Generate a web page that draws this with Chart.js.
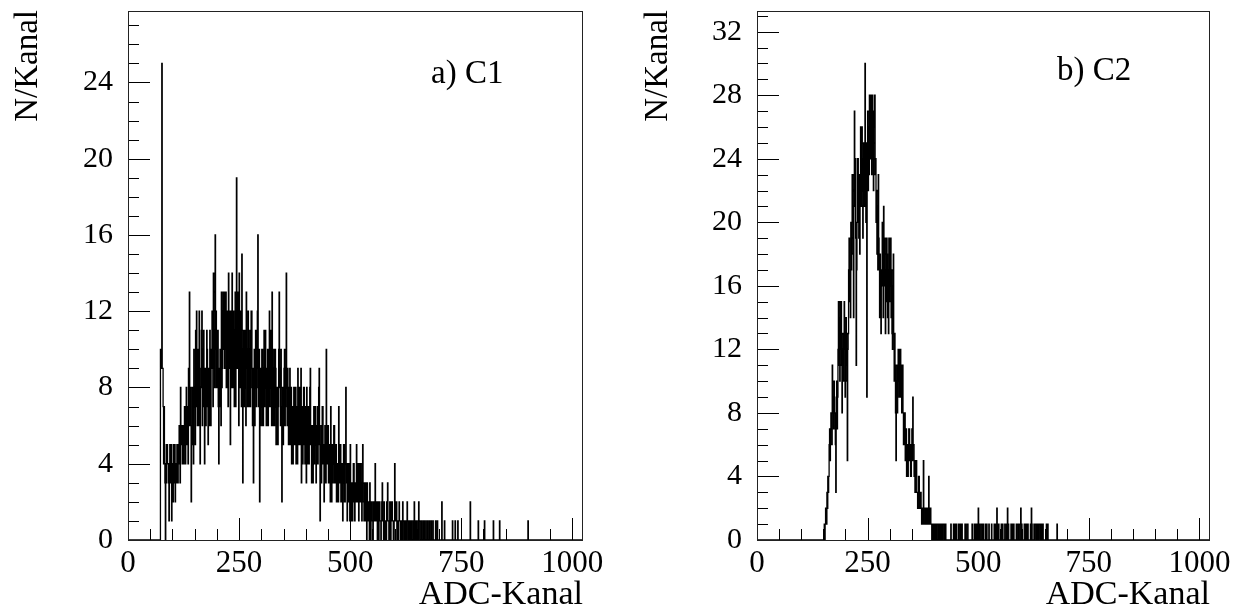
<!DOCTYPE html>
<html><head><meta charset="utf-8">
<script src="https://cdn.jsdelivr.net/npm/chart.js@4.4.0/dist/chart.umd.min.js"></script>
<style>
html,body{margin:0;padding:0;background:#fff;}
#wrap{position:relative;width:1236px;height:611px;overflow:hidden;}
canvas{position:absolute;top:0;}
</style></head><body>
<div id="wrap">
<canvas id="c1" width="618" height="611" style="left:0;width:618px;height:611px"></canvas>
<canvas id="c2" width="618" height="611" style="left:618px;width:618px;height:611px"></canvas>
</div>
<script>
// ---------------- data ----------------
const binWidth = 1;                 // ADC channels per bin
const xRange = [0, 1024];
const xTickLabels = [0, 250, 500, 750, 1000];
const xMinorStep = 50;
const xTitle = "ADC-Kanal";
const yTitle = "N/Kanal";

// C1: counts per channel, one row = 20 channels, starting at channel 70
const c1Label = "a) C1";
const c1FirstChannel = 70;
const c1Counts = [
0,0,0,10,9,10,25,9,9,7,4,7,5,3,0,4,3,5,5,4,
4,3,1,4,5,3,3,5,1,4,4,2,5,4,3,5,2,4,4,3,
5,3,3,5,4,6,6,3,8,5,5,6,4,6,6,4,5,7,7,4,
6,8,5,7,7,4,9,6,13,7,6,8,2,6,5,8,7,4,10,7,
8,5,11,7,12,8,6,10,9,6,12,9,4,8,8,11,12,6,7,10,
11,7,4,9,9,6,7,11,10,7,5,9,8,6,11,8,6,10,9,12,
9,7,14,9,11,8,16,10,12,8,8,11,11,7,4,9,7,10,10,6,
13,8,9,12,13,10,13,9,10,13,13,8,8,12,10,7,14,9,9,12,
5,10,12,8,14,9,8,12,11,7,10,13,7,10,19,9,10,13,9,6,
14,9,8,12,12,7,15,10,3,9,11,7,8,11,9,6,13,9,10,7,
12,8,7,10,11,7,9,12,12,8,6,9,3,8,10,6,8,11,11,7,
9,12,16,8,7,10,2,8,9,6,7,10,10,6,6,9,11,7,8,11,
9,6,6,9,10,6,7,10,12,7,8,11,9,6,13,8,6,9,10,6,
7,10,9,5,5,8,8,5,7,10,13,8,9,6,10,7,2,6,8,5,
6,9,10,6,7,9,14,8,6,9,8,5,5,8,9,5,6,8,4,7,
7,4,5,8,8,5,6,8,4,7,7,4,9,6,5,8,8,5,6,9,
3,6,7,4,5,8,8,5,4,7,6,3,8,5,4,7,7,4,5,8,
9,5,6,3,4,6,3,6,7,4,5,7,6,3,4,6,7,4,5,8,
9,5,1,5,6,3,4,7,7,4,5,2,3,6,6,3,10,5,4,6,
6,3,3,5,5,2,7,4,2,5,5,3,4,6,6,3,3,5,5,2,
2,4,4,2,7,4,3,5,5,2,2,4,4,1,3,5,5,2,2,4,
8,4,3,1,4,2,2,4,3,1,5,3,1,3,3,1,2,4,4,2,
1,3,3,2,5,3,2,4,4,1,4,2,2,4,4,2,1,3,5,2,
2,1,3,2,1,3,2,0,3,1,1,2,2,0,3,1,0,2,2,1,
1,0,2,1,1,2,4,1,1,2,2,0,1,2,0,1,2,1,1,0,
1,2,3,1,1,0,2,1,0,1,1,0,2,1,3,1,1,0,0,2,
2,0,1,2,2,1,1,0,0,1,4,1,1,2,2,0,1,1,0,1,
2,1,1,0,0,1,1,0,2,1,1,0,1,1,0,0,1,0,2,1,
1,0,0,1,1,0,0,1,1,0,0,0,1,0,2,1,0,0,1,0,
1,0,0,0,2,1,1,0,0,0,1,0,0,0,1,0,1,0,0,0,
1,0,0,0,1,0,0,0,1,0,0,0,1,0,0,0,1,0,0,0,
0,0,1,0,0,0,1,0,0,0,0,0,0,0,0,0,2,0,0,0
];
// isolated single-channel entries further out
const c1TailChannels = [712, 730, 736, 742, 770, 788, 802, 822, 836, 900];
const c1TailCounts   = [1, 1, 1, 1, 2, 1, 1, 1, 1, 1];
const c1YTicks = [0, 4, 8, 12, 16, 20, 24];
const c1YMax = 27.75;

// C2: counts per channel, one row = 20 channels, starting at channel 150
const c2Label = "b) C2";
const c2FirstChannel = 150;
const c2Counts = [
0,0,1,0,1,2,2,1,3,2,4,3,4,6,7,5,7,8,8,6,
11,8,9,7,10,8,8,6,3,9,10,7,9,12,15,11,14,10,15,12,
15,11,8,12,13,10,12,15,13,9,11,14,13,10,5,12,13,17,19,15,
17,14,20,17,20,23,23,18,14,21,27,22,24,19,11,17,20,24,24,20,
19,23,18,22,26,21,22,26,24,19,21,25,25,21,30,24,20,25,9,22,
27,22,26,23,28,25,24,28,28,23,28,24,27,22,26,28,28,23,24,20,
22,18,21,17,23,19,17,14,18,15,13,17,16,20,18,14,21,17,16,19,
13,17,15,19,18,14,17,13,19,15,16,19,19,14,17,13,12,16,18,13,
10,13,11,8,5,10,11,8,10,12,12,9,9,12,12,9,11,8,9,11,
8,6,6,8,8,5,5,7,4,6,6,4,5,7,7,5,6,4,4,6,
7,5,9,6,6,4,5,3,4,5,5,3,3,2,2,4,4,2,2,3,
3,2,1,2,2,1,5,2,2,1,1,2,2,1,1,2,2,1,4,2,
1,2,2,1,1,0,0,1,1,0,1,1,0,1,1,0,1,1,1,0,
0,1,1,0,1,0,0,1,1,0,1,1,1,0,0,1,1,0,0,0,
0,0,0,0,0,0,0,0,1,0,0,0,0,0,1,0,0,1,1,0,
1,0,0,0,0,1,1,0,0,0,1,0,1,1,0,0,0,0,0,0,
1,0,0,0,1,1,1,0,0,0,0,0,0,0,0,0,1,1,0,0,
0,0,1,0,1,1,0,0,1,0,2,1,1,0,0,0,1,0,0,0,
1,1,0,0,0,0,1,0,1,1,0,0,0,0,1,0,0,0,0,0,
1,0,0,0,0,0,1,1,0,0,1,0,2,1,0,0,1,0,0,0,
0,0,1,0,1,1,0,0,0,0,1,0,0,0,1,0,2,1,1,0,
0,0,0,0,1,0,1,1,0,0,1,0,0,0,0,0,1,0,0,0,
1,0,0,0,1,1,2,0,1,0,0,0,0,0,1,1,1,0,1,1,
0,0,1,0,0,0,0,0,1,0,2,1,0,0,0,0,1,0,1,1,
1,0,1,1,0,0,1,0,1,1,1,0,1,1,0,0,1,0,0,0,
0,0,0,0,1,0,0,1,0,0
];
const c2TailChannels = [678];
const c2TailCounts   = [1];
const c2YTicks = [0, 4, 8, 12, 16, 20, 24, 28, 32];
const c2YMax = 33.3;

// ---------------- drawing ----------------
const FONT = "'Liberation Serif', 'Times New Roman', serif";

function histPoints(first, counts, tailCh, tailN) {
  const pts = [{x: xRange[0], y: 0}];
  counts.forEach((c, i) => pts.push({x: first + i * binWidth, y: c}));
  pts.push({x: first + counts.length * binWidth, y: 0});
  tailCh.forEach((ch, i) => {
    pts.push({x: ch, y: tailN[i]});
    pts.push({x: ch + binWidth, y: 0});
  });
  pts.push({x: xRange[1], y: 0});
  return pts;
}

const framePlugin = {
  id: 'frame',
  afterDraw(chart, args, o) {
    const {ctx, chartArea: a, scales: {x, y}} = chart;
    ctx.save();
    ctx.strokeStyle = '#000';
    ctx.lineWidth = 1;
    ctx.beginPath();
    for (let v = xRange[0]; v <= 1000; v += xMinorStep) {
      const px = Math.round(x.getPixelForValue(v)) + 0.5;
      const len = xTickLabels.includes(v) ? 22 : 11;
      ctx.moveTo(px, a.bottom);
      ctx.lineTo(px, a.bottom - len);
    }
    for (let v = 0; v <= o.yMax; v += 1) {
      const py = Math.round(y.getPixelForValue(v)) + 0.5;
      const len = o.yTicks.includes(v) ? 22 : 11;
      ctx.moveTo(a.left, py);
      ctx.lineTo(a.left + len, py);
    }
    ctx.stroke();
    ctx.strokeStyle = '#222';
    ctx.strokeRect(a.left + 0.5, a.top + 0.5, a.right - a.left - 1, a.bottom - a.top);
    // texts
    ctx.fillStyle = '#000';
    ctx.font = "33px " + FONT;
    ctx.textAlign = 'left';
    ctx.textBaseline = 'alphabetic';
    ctx.fillText(o.label, o.labelX, o.labelY);
    ctx.font = "34px " + FONT;
    ctx.textAlign = 'right';
    ctx.fillText(xTitle, a.right, 604);
    ctx.font = "33px " + FONT;
    ctx.translate(o.yTitleX, 10);
    ctx.rotate(-Math.PI / 2);
    ctx.textAlign = 'right';
    ctx.fillText(yTitle, 0, 0);
    ctx.restore();
  }
};

function makeChart(id, first, counts, tailCh, tailN, yTicks, yMax, label, area, labelPos, yTitleX) {
  return new Chart(document.getElementById(id), {
    type: 'line',
    data: {datasets: [{
      data: histPoints(first, counts, tailCh, tailN),
      stepped: 'before',
      borderColor: '#000',
      borderWidth: 1.3,
      pointRadius: 0,
      fill: false,
      tension: 0
    }]},
    options: {
      animation: false,
      responsive: false,
      events: [],
      parsing: false,
      layout: {padding: {left: 0, top: area.top, right: 618 - area.right, bottom: 0}},
      plugins: {
        legend: {display: false},
        tooltip: {enabled: false},
        frame: {yMax, yTicks, label, labelX: labelPos[0], labelY: labelPos[1], yTitleX}
      },
      scales: {
        x: {
          type: 'linear', min: xRange[0], max: xRange[1],
          afterBuildTicks(s) { s.ticks = xTickLabels.map(v => ({value: v})); },
          afterFit(s) { s.height = 611 - area.bottom; s.paddingLeft = 0; s.paddingRight = 0; },
          grid: {display: false, drawTicks: false, tickLength: 0},
          border: {display: false},
          ticks: {font: {family: FONT, size: 31}, color: '#000', padding: 5, maxRotation: 0, autoSkip: false,
                  callback: v => String(v)}
        },
        y: {
          type: 'linear', min: 0, max: yMax,
          afterBuildTicks(s) { s.ticks = yTicks.map(v => ({value: v})); },
          afterFit(s) { s.width = area.left; s.paddingTop = 0; s.paddingBottom = 0; },
          grid: {display: false, drawTicks: false, tickLength: 0},
          border: {display: false},
          ticks: {font: {family: FONT, size: 30}, color: '#000', padding: 15, autoSkip: false,
                  callback: v => String(v)}
        }
      }
    },
    plugins: [framePlugin]
  });
}

makeChart('c1', c1FirstChannel, c1Counts, c1TailChannels, c1TailCounts, c1YTicks, c1YMax, c1Label,
  {left: 128, right: 583, top: 11, bottom: 540}, [431, 83], 37);
makeChart('c2', c2FirstChannel, c2Counts, c2TailChannels, c2TailCounts, c2YTicks, c2YMax, c2Label,
  {left: 139, right: 592, top: 11, bottom: 540}, [439, 80], 49);
</script>
</body></html>
